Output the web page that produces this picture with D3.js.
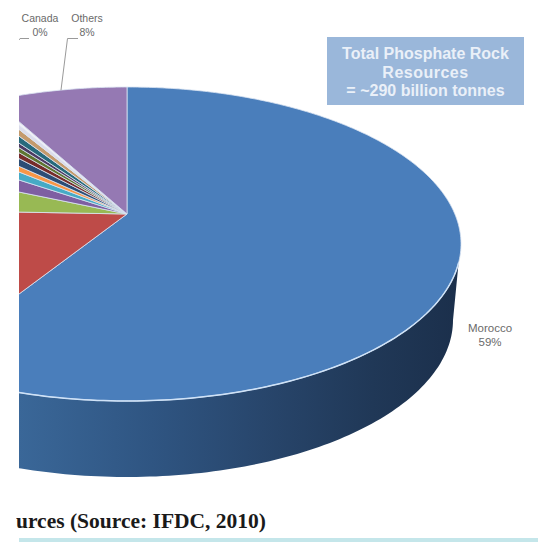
<!DOCTYPE html>
<html>
<head>
<meta charset="utf-8">
<script src="https://cdn.jsdelivr.net/npm/d3@7/dist/d3.min.js"></script>
<style>
html,body{margin:0;padding:0;background:#fff;overflow:hidden}
svg{display:block}
</style>
</head>
<body>
<svg id="chart" width="538" height="542"></svg>
<script>
// Share of world phosphate rock resources, in percent, clockwise from twelve o'clock.
// First slice is Morocco, the last two are Canada and Others.
const sliceValues = [59,16.6,5.9,2.9,1.6,1,1.2,0.8,0.6,0.5,0.7,0.6,0.35,0.25,8];
const sliceColors = ["#4a7ebb","#be4b48","#98b954","#7e5fa2","#46aac5","#f79646","#2c4d75","#772c2a","#5f7530","#4d3b62","#276a7c","#c49a6c","#dcdcea","#f2f0f6","#9579b3"];
const boxLines = ["Total Phosphate Rock","Resources","= ~290 billion tonnes"];
const calloutNames = ["Canada","Others","Morocco"];
const calloutShares = ["0%","8%","59%"];
const sourceLine = "ources (Source: IFDC, 2010)";

const svg = d3.select("#chart");
const W = 538, H = 542;

// Tilted disc: the wedges meet above the ellipse centre, as in a perspective 3-D pie
const disc = {cx:127, cy:244, rx:334, ry:157};
const apex = {x:127, y:214};
const floor = {cx:127, cy:320, rx:326, ry:157};

const defs = svg.append("defs");
defs.append("clipPath").attr("id","plotClip")
  .append("rect").attr("x",19).attr("y",0).attr("width",W-19).attr("height",H);
defs.append("clipPath").attr("id","sourceClip")
  .append("rect").attr("x",16).attr("y",500).attr("width",W-16).attr("height",38);

const wallGrad = defs.append("linearGradient").attr("id","wallGrad")
  .attr("gradientUnits","userSpaceOnUse")
  .attr("x1",19).attr("x2",461).attr("y1",0).attr("y2",0);
[[0,"#3a6798"],[0.3,"#2f5582"],[0.55,"#28466c"],[0.8,"#203857"],[1,"#1b2f4b"]]
  .forEach(([o,c]) => wallGrad.append("stop").attr("offset",o).attr("stop-color",c));

// Point where the ray leaving the apex at pie angle a meets the disc's rim
function rimPoint(a){
  const dx = disc.rx*Math.sin(a), dy = -disc.ry*Math.cos(a);
  const ox = (apex.x-disc.cx)/disc.rx, oy = (apex.y-disc.cy)/disc.ry;
  const ux = dx/disc.rx, uy = dy/disc.ry;
  const A = ux*ux+uy*uy, B = 2*(ox*ux+oy*uy), C = ox*ox+oy*oy-1;
  const t = (-B+Math.sqrt(B*B-4*A*C))/(2*A);
  return [apex.x+dx*t, apex.y+dy*t];
}

const line = d3.line();
const plot = svg.append("g").attr("clip-path","url(#plotClip)");

// Side wall, from the right shoulder of the disc round the front to the far left
const topEdge = d3.range(0.12, Math.PI+0.01, 0.02)
  .map(t => [disc.cx+disc.rx*Math.cos(t), disc.cy+disc.ry*Math.sin(t)]);
const lowEdge = d3.range(Math.PI, -0.001, -0.02)
  .map(t => [floor.cx+floor.rx*Math.cos(t), floor.cy+floor.ry*Math.sin(t)]);
plot.append("path")
  .attr("d", line(topEdge.concat(lowEdge))+"Z")
  .attr("fill","url(#wallGrad)");

// Top face wedges
const pie = d3.pie().sort(null).startAngle(0).endAngle(2*Math.PI).value(d => d);
plot.selectAll("path.slice").data(pie(sliceValues)).join("path")
  .attr("class","slice")
  .attr("d", d => {
    const n = Math.max(2, Math.ceil((d.endAngle-d.startAngle)/0.01));
    const rim = d3.range(n+1).map(i => rimPoint(d.startAngle+(d.endAngle-d.startAngle)*i/n));
    return line([[apex.x,apex.y],...rim])+"Z";
  })
  .attr("fill",(d,i) => sliceColors[i])
  .attr("stroke","#dbe5f2")
  .attr("stroke-opacity",0.8)
  .attr("stroke-width",1)
  .attr("stroke-linejoin","round");

// Pale highlight along the front of the rim
plot.append("path")
  .attr("d", line(topEdge))
  .attr("fill","none")
  .attr("stroke","#cfe2f7")
  .attr("stroke-width",1.5);

// Leader lines for the two labels above the disc
const labelInk = "#6a6a6a";
const leaders = [[[19,40],[20,38.5],[29,38.5]], [[61,90],[67.5,38.5],[78,38.5]]];
plot.selectAll("path.leader").data(leaders).join("path")
  .attr("class","leader")
  .attr("d", line)
  .attr("fill","none")
  .attr("stroke","#9a9a9a")
  .attr("stroke-width",1);

// Slice callouts
const calloutX = [40,87,490], calloutY = [22,22,332], calloutSize = [10.5,10.5,11.5];
const callouts = svg.selectAll("text.callout").data(calloutNames).join("text")
  .attr("class","callout")
  .attr("text-anchor","middle")
  .attr("font-family","'Liberation Sans',Arial,sans-serif")
  .attr("font-size",(d,i)=>calloutSize[i])
  .attr("fill",labelInk);
callouts.append("tspan").attr("x",(d,i)=>calloutX[i]).attr("y",(d,i)=>calloutY[i]).text(d=>d);
callouts.append("tspan").attr("x",(d,i)=>calloutX[i]).attr("y",(d,i)=>calloutY[i]+14).text((d,i)=>calloutShares[i]);

// Total resources box
svg.append("rect").attr("x",327).attr("y",37).attr("width",197).attr("height",68).attr("fill","#9ab7da");
svg.selectAll("text.box").data(boxLines).join("text")
  .attr("class","box")
  .attr("x",425.5)
  .attr("y",(d,i)=>59+i*18.5)
  .attr("text-anchor","middle")
  .attr("font-family","'Liberation Sans',Arial,sans-serif")
  .attr("font-weight","bold")
  .attr("font-size",16)
  .attr("letter-spacing",(d,i)=>i === 1 ? 0.5 : 0)
  .attr("fill","#eaf0f8")
  .text(d=>d);

// Source line and the tinted rule under it
svg.append("text")
  .attr("clip-path","url(#sourceClip)")
  .attr("x",266).attr("y",528)
  .attr("text-anchor","end")
  .attr("font-family","'Liberation Serif','Times New Roman',serif")
  .attr("font-weight","bold")
  .attr("font-size",21.5)
  .attr("fill","#1a1a1a")
  .text(sourceLine);
svg.append("rect").attr("x",19).attr("y",538).attr("width",W-19).attr("height",4).attr("fill","#c4e6ea");
</script>
</body>
</html>
